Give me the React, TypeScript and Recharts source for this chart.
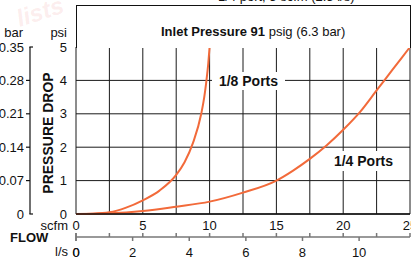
import { LineChart, Line, XAxis, YAxis, CartesianGrid } from "recharts";

// flow ticks, scfm on top row, l/s below
const scfmTicks = [0, 2.5, 5, 7.5, 10, 12.5, 15, 17.5, 20, 22.5, 25];
const lsTicks = [0, 2, 4, 6, 8, 10];
const SCFM_TO_LS = 0.4719;
const PSI_TO_BAR = 0.06895;

// pressure drop ticks
const psiTicks = [0, 1, 2, 3, 4, 5];
const barTicks = [0, 0.07, 0.14, 0.21, 0.28, 0.35];

// 1/8 ports curve
const eighthScfm = [0, 1.25, 2.5, 3.75, 5, 6.25, 7.5, 8.125, 8.75, 9.375, 9.6, 9.75, 9.9, 10];
const eighthPsi = [0, 0.01, 0.05, 0.19, 0.41, 0.7, 1.17, 1.55, 2.12, 3.0, 3.5, 3.95, 4.5, 5.0];

// 1/4 ports curve
const quarterScfm = [0, 2.5, 5, 7.5, 10, 12.5, 15, 16.25, 17.5, 18.75, 20, 21.25, 22.5, 23.75, 25];
const quarterPsi = [0, 0.02, 0.09, 0.22, 0.37, 0.64, 1.0, 1.3, 1.65, 2.05, 2.52, 3.05, 3.7, 4.35, 5.0];

const eighthData = eighthScfm.map((s, i) => ({ scfm: s, psi: eighthPsi[i] }));
const quarterData = quarterScfm.map((s, i) => ({ scfm: s, psi: quarterPsi[i] }));
// same 1/4 curve in metric units, keeps the l/s and bar axes tied to data
const quarterMetric = quarterScfm.map((s, i) => ({ ls: s * SCFM_TO_LS, bar: quarterPsi[i] * PSI_TO_BAR }));

// l/s axis carries its own ticks (down) plus the scfm grid marks (up)
const scfmMarksInLs = scfmTicks.map((s) => s * SCFM_TO_LS);
const lsAxisTicks = [...lsTicks, ...scfmMarksInLs].sort((a, b) => a - b);

const INK = "#111";
const CURVE = "#f26a3a";
const FONT = '"Liberation Sans", Arial, Helvetica, sans-serif';

function BarTick(props: any) {
  const { x, y, payload, index } = props;
  const axisX = x + 6;
  const isEnd = index === 0 || index === barTicks.length - 1;
  const label = payload.value === 0 ? "0" : Number(payload.value).toFixed(2);
  return (
    <g>
      <text x={x} y={y} dy="0.355em" textAnchor="end" fontSize={13} fill={INK} fontFamily={FONT}>
        {label}
      </text>
      {isEnd ? (
        <line x1={axisX - 0.6} x2={axisX + 3} y1={y} y2={y} stroke={INK} strokeWidth={1.2} />
      ) : (
        <line x1={axisX - 4} x2={axisX} y1={y} y2={y} stroke={INK} strokeWidth={1.2} />
      )}
    </g>
  );
}

function ScfmTick(props: any) {
  const { x, y, payload } = props;
  if (payload.value % 5 !== 0) return <g />;
  return (
    <text x={x} y={y} dy="0.71em" textAnchor="middle" fontSize={13} fill={INK} fontFamily={FONT}>
      {payload.value}
    </text>
  );
}

function LsTick(props: any) {
  const { x, y, payload } = props;
  const isLs = lsTicks.includes(payload.value);
  const isScfm = scfmMarksInLs.includes(payload.value);
  return (
    <g>
      {isScfm && <line x1={x} x2={x} y1={y - 4} y2={y} stroke="#777" strokeWidth={1.5} />}
      {isLs && <line x1={x} x2={x} y1={y} y2={y + 4} stroke="#777" strokeWidth={1.5} />}
      {isLs && (
        <text x={x} y={y + 11} dy="0.71em" textAnchor="middle" fontSize={13} fill={INK} fontFamily={FONT}>
          {payload.value}
        </text>
      )}
    </g>
  );
}

const txt = (extra: React.CSSProperties): React.CSSProperties => ({
  position: "absolute",
  fontFamily: FONT,
  fontSize: 13,
  lineHeight: "13px",
  color: INK,
  whiteSpace: "nowrap",
  ...extra,
});

export default function App() {
  return (
    <div
      style={{
        position: "absolute",
        left: 0,
        top: 0,
        width: 411,
        height: 259,
        overflow: "hidden",
        background: "#fff",
        fontFamily: FONT,
      }}
    >
      <LineChart width={411} height={259} margin={{ top: 47, right: 1, left: 0, bottom: 0 }}>
        <CartesianGrid xAxisId="a_scfm" yAxisId="a_psi" stroke="#1a1a1a" strokeWidth={1} />
        <XAxis
          xAxisId="b_ls"
          dataKey="ls"
          type="number"
          domain={[0, 25 * SCFM_TO_LS]}
          ticks={lsAxisTicks}
          height={22}
          axisLine={{ stroke: "#777", strokeWidth: 1.5 }}
          tickLine={false}
          tickSize={0}
          tickMargin={0}
          tick={<LsTick />}
          interval={0}
        />
        <XAxis
          xAxisId="a_scfm"
          dataKey="scfm"
          type="number"
          domain={[0, 25]}
          ticks={scfmTicks}
          height={23}
          axisLine={{ stroke: INK, strokeWidth: 1.5 }}
          tickLine={false}
          tickSize={0}
          tickMargin={7}
          tick={<ScfmTick />}
          interval={0}
        />
        <YAxis
          yAxisId="b_bar"
          dataKey="bar"
          type="number"
          domain={[0, 0.35]}
          ticks={barTicks}
          width={30}
          axisLine={{ stroke: INK, strokeWidth: 1.2 }}
          tickLine={false}
          tickSize={4}
          tickMargin={2}
          tick={<BarTick />}
          interval={0}
        />
        <YAxis
          yAxisId="a_psi"
          type="number"
          domain={[0, 5]}
          ticks={psiTicks}
          width={46}
          axisLine={false}
          tickLine={false}
          tickSize={0}
          tickMargin={9}
          tick={{ fontSize: 13, fill: INK, fontFamily: FONT }}
          interval={0}
        />
        <Line
          xAxisId="b_ls"
          yAxisId="b_bar"
          data={quarterMetric}
          dataKey="bar"
          type="monotone"
          stroke="none"
          dot={false}
          activeDot={false}
          legendType="none"
          isAnimationActive={false}
        />
        <Line
          xAxisId="a_scfm"
          yAxisId="a_psi"
          data={eighthData}
          dataKey="psi"
          type="monotone"
          stroke={CURVE}
          strokeWidth={2}
          dot={false}
          isAnimationActive={false}
        />
        <Line
          xAxisId="a_scfm"
          yAxisId="a_psi"
          data={quarterData}
          dataKey="psi"
          type="monotone"
          stroke={CURVE}
          strokeWidth={2}
          dot={false}
          isAnimationActive={false}
        />
      </LineChart>

      {/* title box above the grid */}
      <div
        style={{
          position: "absolute",
          left: 76,
          top: 5,
          width: 335,
          height: 43,
          boxSizing: "border-box",
          borderTop: `1px solid ${INK}`,
          borderLeft: `1px solid ${INK}`,
          borderRight: `1px solid ${INK}`,
          background: "#fff",
        }}
      />
      <div style={txt({ left: 218, top: -10 })}>1/4 port, 5 scfm (2.5 l/s)</div>
      <div style={txt({ left: 161, top: 25 })}>
        <b>Inlet Pressure 91</b> psig (6.3 bar)
      </div>

      {/* axis titles */}
      <div style={txt({ right: 411 - 23, top: 26 })}>bar</div>
      <div style={txt({ right: 411 - 67, top: 26 })}>psi</div>
      <div
        style={txt({
          left: 48,
          top: 133,
          fontSize: 14,
          lineHeight: "14px",
          fontWeight: 700,
          transform: "translate(-50%, -50%) rotate(-90deg)",
        })}
      >
        PRESSURE DROP
      </div>
      <div style={txt({ right: 411 - 68, top: 219 })}>scfm</div>
      <div style={txt({ left: 10, top: 231, fontWeight: 700 })}>FLOW</div>
      <div style={txt({ right: 411 - 68, top: 245 })}>l/s</div>

      {/* curve labels */}
      <div
        style={txt({
          left: 212,
          top: 72,
          width: 73,
          height: 18,
          lineHeight: "18px",
          fontSize: 14,
          fontWeight: 700,
          background: "#fff",
          textAlign: "center",
        })}
      >
        1/8 Ports
      </div>
      <div
        style={txt({
          left: 328,
          top: 151,
          width: 71,
          height: 20,
          lineHeight: "20px",
          fontSize: 14,
          fontWeight: 700,
          background: "#fff",
          textAlign: "center",
        })}
      >
        1/4 Ports
      </div>

      {/* faint watermark */}
      <div
        style={txt({
          left: 16,
          top: 0,
          fontSize: 24,
          lineHeight: "24px",
          fontWeight: 700,
          fontStyle: "italic",
          color: "rgba(235, 120, 120, 0.14)",
          transform: "rotate(-18deg)",
        })}
      >
        lists
      </div>
    </div>
  );
}
